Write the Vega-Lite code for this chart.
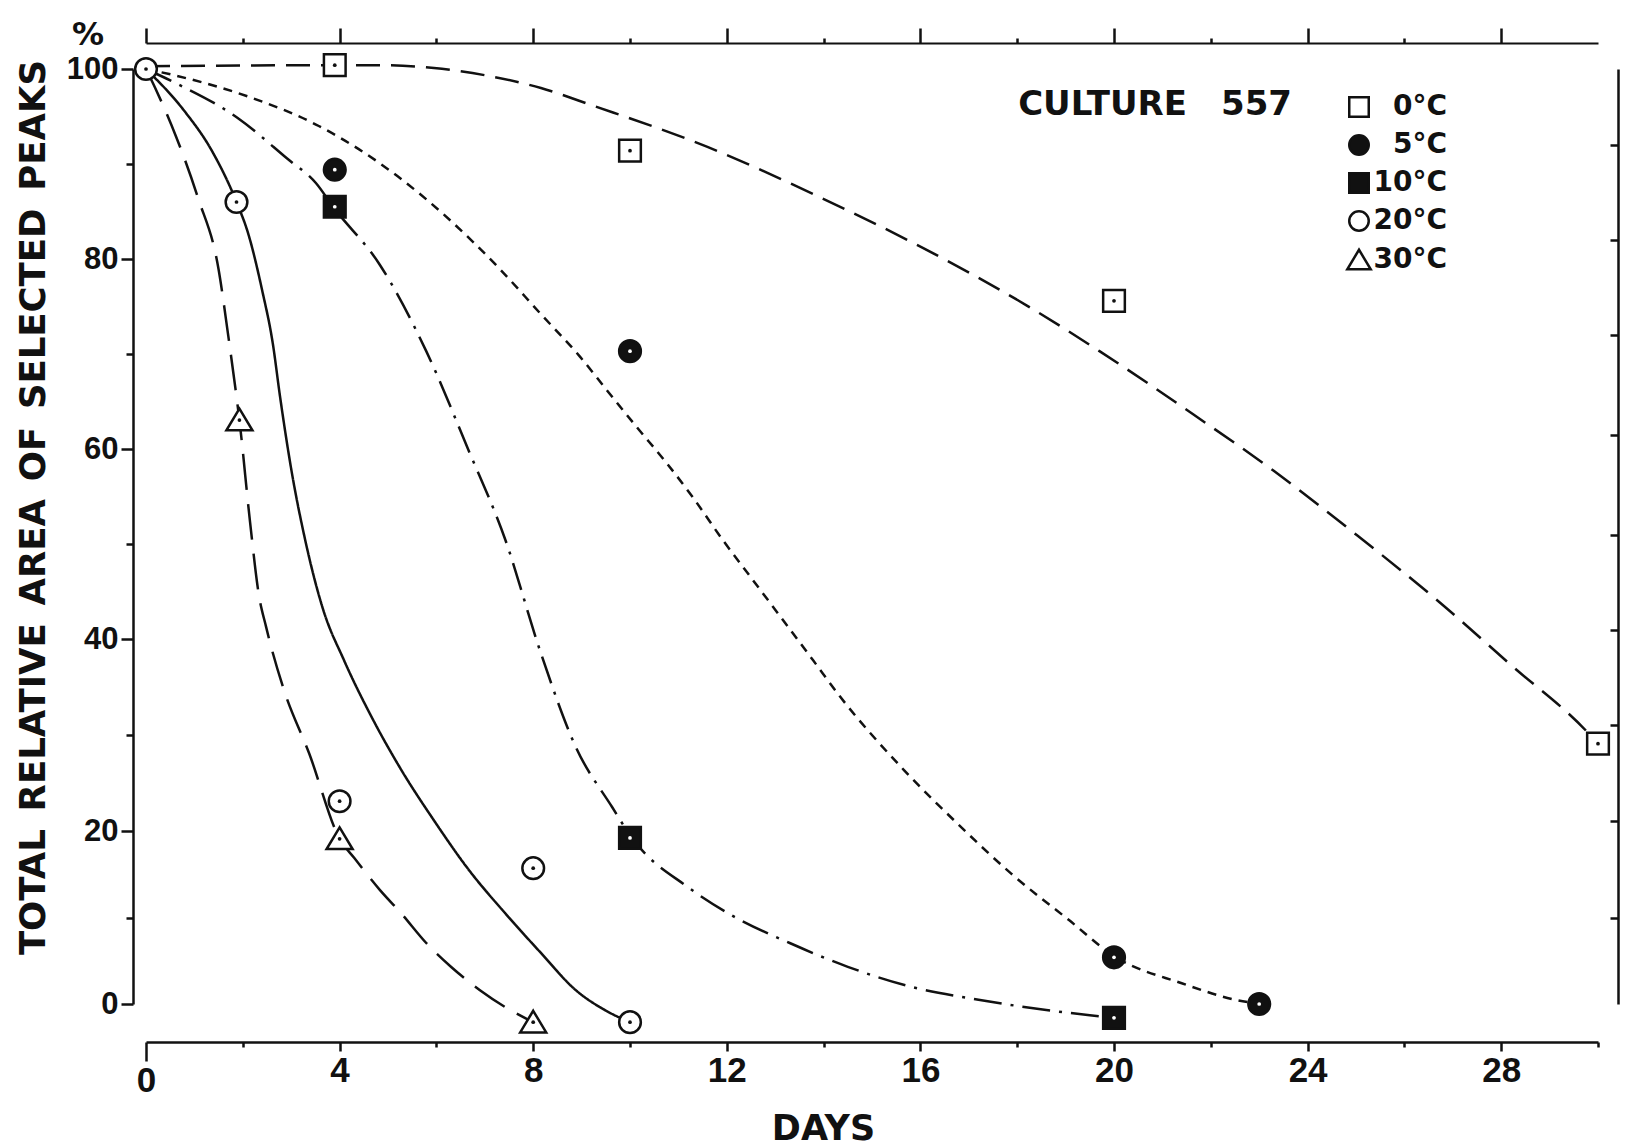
{
  "$schema": "https://vega.github.io/schema/vega-lite/v6.json",
  "width": 1452,
  "height": 935,
  "autosize": {"type": "none"},
  "padding": {"left": 146, "top": 69, "right": 28, "bottom": 144},
  "background": "white",
  "config": {
    "view": {"stroke": null},
    "font": "Liberation Sans",
    "axis": {
      "domainColor": "#111", "domainWidth": 2.5, "tickColor": "#111", "tickWidth": 2.5,
      "labelColor": "#111", "titleColor": "#111", "grid": false,
      "labelFont": "Liberation Sans", "titleFont": "DejaVu Sans",
      "labelFontWeight": "bold", "titleFontWeight": "bold"
    },
    "legend": {
      "orient": "none", "legendX": 1199, "legendY": 24, "title": null, "padding": 0,
      "symbolSize": 380, "symbolStrokeColor": "#111", "symbolStrokeWidth": 2.5, "symbolOpacity": 1,
      "labelFont": "DejaVu Sans", "labelFontSize": 28, "labelFontWeight": "bold", "labelColor": "#111",
      "labelAlign": "right", "labelOffset": 74, "rowPadding": 8
    }
  },
  "datasets": {
    "curves": [
      {"temp": "0°C", "day": 0, "v": 100.3}, {"temp": "0°C", "day": 3.9, "v": 100.4}, {"temp": "0°C", "day": 4.83, "v": 100.4},
      {"temp": "0°C", "day": 5.95, "v": 100.1}, {"temp": "0°C", "day": 7.05, "v": 99.3}, {"temp": "0°C", "day": 8.16, "v": 98.0},
      {"temp": "0°C", "day": 9.26, "v": 96.1}, {"temp": "0°C", "day": 11.6, "v": 91.8}, {"temp": "0°C", "day": 13.8, "v": 86.8},
      {"temp": "0°C", "day": 16.0, "v": 81.3}, {"temp": "0°C", "day": 18.2, "v": 75.1}, {"temp": "0°C", "day": 19.7, "v": 70.3},
      {"temp": "0°C", "day": 21.65, "v": 63.6}, {"temp": "0°C", "day": 23.3, "v": 57.7}, {"temp": "0°C", "day": 25.0, "v": 51.0},
      {"temp": "0°C", "day": 26.65, "v": 44.2}, {"temp": "0°C", "day": 28.2, "v": 37.3}, {"temp": "0°C", "day": 29.8, "v": 30.2},
      {"temp": "0°C", "day": 30.0, "v": 29.1},
      {"temp": "5°C", "day": 0, "v": 100}, {"temp": "5°C", "day": 0.62, "v": 99.3}, {"temp": "5°C", "day": 2.11, "v": 97.1},
      {"temp": "5°C", "day": 3.57, "v": 94.0}, {"temp": "5°C", "day": 5.2, "v": 88.7}, {"temp": "5°C", "day": 6.3, "v": 84.0},
      {"temp": "5°C", "day": 7.3, "v": 79.0}, {"temp": "5°C", "day": 8.14, "v": 74.3}, {"temp": "5°C", "day": 8.97, "v": 69.7},
      {"temp": "5°C", "day": 9.52, "v": 66.2}, {"temp": "5°C", "day": 10.14, "v": 62.3}, {"temp": "5°C", "day": 10.76, "v": 58.5},
      {"temp": "5°C", "day": 11.3, "v": 54.9}, {"temp": "5°C", "day": 11.92, "v": 50.4}, {"temp": "5°C", "day": 12.54, "v": 46.2},
      {"temp": "5°C", "day": 13.16, "v": 42.0}, {"temp": "5°C", "day": 13.78, "v": 37.8}, {"temp": "5°C", "day": 14.34, "v": 34.0},
      {"temp": "5°C", "day": 15.66, "v": 26.35}, {"temp": "5°C", "day": 16.76, "v": 20.8}, {"temp": "5°C", "day": 17.87, "v": 15.1},
      {"temp": "5°C", "day": 19.07, "v": 9.7}, {"temp": "5°C", "day": 20.04, "v": 5.4}, {"temp": "5°C", "day": 21.4, "v": 2.4},
      {"temp": "5°C", "day": 22.5, "v": 0.5}, {"temp": "5°C", "day": 23.0, "v": 0},
      {"temp": "10°C", "day": 0, "v": 100}, {"temp": "10°C", "day": 0.62, "v": 98.5}, {"temp": "10°C", "day": 1.88, "v": 94.9},
      {"temp": "10°C", "day": 2.91, "v": 90.6}, {"temp": "10°C", "day": 3.51, "v": 88.0}, {"temp": "10°C", "day": 3.88, "v": 85.4},
      {"temp": "10°C", "day": 4.83, "v": 79.4}, {"temp": "10°C", "day": 5.79, "v": 70.3}, {"temp": "10°C", "day": 6.67, "v": 59.8},
      {"temp": "10°C", "day": 7.42, "v": 50.5}, {"temp": "10°C", "day": 8.16, "v": 38.5}, {"temp": "10°C", "day": 8.88, "v": 28.75},
      {"temp": "10°C", "day": 9.63, "v": 22.5}, {"temp": "10°C", "day": 10.04, "v": 19.2}, {"temp": "10°C", "day": 11.2, "v": 13.5},
      {"temp": "10°C", "day": 12.15, "v": 10.1}, {"temp": "10°C", "day": 13.3, "v": 7.05}, {"temp": "10°C", "day": 14.5, "v": 4.3},
      {"temp": "10°C", "day": 15.8, "v": 2.0}, {"temp": "10°C", "day": 17.2, "v": 0.5}, {"temp": "10°C", "day": 18.6, "v": -0.7},
      {"temp": "10°C", "day": 19.5, "v": -1.3}, {"temp": "10°C", "day": 20.0, "v": -1.6},
      {"temp": "20°C", "day": 0, "v": 100}, {"temp": "20°C", "day": 0.79, "v": 95.6}, {"temp": "20°C", "day": 1.36, "v": 91.4},
      {"temp": "20°C", "day": 1.87, "v": 86.0}, {"temp": "20°C", "day": 2.11, "v": 82.7}, {"temp": "20°C", "day": 2.4, "v": 76.7},
      {"temp": "20°C", "day": 2.62, "v": 71.1}, {"temp": "20°C", "day": 2.77, "v": 65.5}, {"temp": "20°C", "day": 3.0, "v": 57.9},
      {"temp": "20°C", "day": 3.29, "v": 50.4}, {"temp": "20°C", "day": 3.66, "v": 43.1}, {"temp": "20°C", "day": 4.09, "v": 37.8},
      {"temp": "20°C", "day": 4.69, "v": 31.6}, {"temp": "20°C", "day": 5.27, "v": 26.4}, {"temp": "20°C", "day": 5.95, "v": 21.1},
      {"temp": "20°C", "day": 6.67, "v": 15.5}, {"temp": "20°C", "day": 7.42, "v": 10.5}, {"temp": "20°C", "day": 8.16, "v": 5.9},
      {"temp": "20°C", "day": 8.88, "v": 1.6}, {"temp": "20°C", "day": 9.48, "v": -0.7}, {"temp": "20°C", "day": 10.0, "v": -2.1},
      {"temp": "30°C", "day": 0, "v": 100}, {"temp": "30°C", "day": 0.19, "v": 98.0}, {"temp": "30°C", "day": 0.62, "v": 92.9},
      {"temp": "30°C", "day": 1.07, "v": 86.5}, {"temp": "30°C", "day": 1.5, "v": 78.9}, {"temp": "30°C", "day": 1.7, "v": 71.9},
      {"temp": "30°C", "day": 1.88, "v": 65.1}, {"temp": "30°C", "day": 1.93, "v": 63.05}, {"temp": "30°C", "day": 2.15, "v": 52.3},
      {"temp": "30°C", "day": 2.33, "v": 44.7}, {"temp": "30°C", "day": 2.48, "v": 41.3}, {"temp": "30°C", "day": 2.85, "v": 34.7},
      {"temp": "30°C", "day": 3.37, "v": 28.1}, {"temp": "30°C", "day": 4.0, "v": 19.1}, {"temp": "30°C", "day": 4.3, "v": 16.9},
      {"temp": "30°C", "day": 4.83, "v": 13.2}, {"temp": "30°C", "day": 5.27, "v": 10.5}, {"temp": "30°C", "day": 5.79, "v": 7.05},
      {"temp": "30°C", "day": 6.3, "v": 4.3}, {"temp": "30°C", "day": 6.9, "v": 1.6}, {"temp": "30°C", "day": 7.42, "v": -0.35},
      {"temp": "30°C", "day": 8.0, "v": -2.1}
    ],
    "obs": [
      {"temp": "0°C", "day": 3.9, "v": 100.4}, {"temp": "0°C", "day": 10, "v": 91.4}, {"temp": "0°C", "day": 20, "v": 75.6}, {"temp": "0°C", "day": 30, "v": 29.1},
      {"temp": "5°C", "day": 3.9, "v": 89.4}, {"temp": "5°C", "day": 10, "v": 70.3}, {"temp": "5°C", "day": 20, "v": 5.4}, {"temp": "5°C", "day": 23, "v": 0},
      {"temp": "10°C", "day": 3.9, "v": 85.5}, {"temp": "10°C", "day": 10, "v": 19.2}, {"temp": "10°C", "day": 20, "v": -1.6},
      {"temp": "20°C", "day": 0, "v": 100}, {"temp": "20°C", "day": 1.87, "v": 86.0}, {"temp": "20°C", "day": 4, "v": 23.1}, {"temp": "20°C", "day": 8, "v": 15.7}, {"temp": "20°C", "day": 10, "v": -2.1},
      {"temp": "30°C", "day": 1.93, "v": 63.05}, {"temp": "30°C", "day": 4, "v": 19.1}, {"temp": "30°C", "day": 8, "v": -2.1}
    ]
  },
  "layer": [
    {
      "data": {"name": "curves"},
      "mark": {"type": "line", "interpolate": "monotone", "strokeWidth": 2.5, "color": "#111"},
      "encoding": {
        "x": {
          "field": "day", "type": "quantitative",
          "scale": {"domain": [0, 30], "nice": false, "zero": false},
          "axis": {
            "orient": "bottom", "offset": 38,
            "values": [0, 2, 4, 6, 8, 10, 12, 14, 16, 18, 20, 22, 24, 26, 28, 30],
            "labelExpr": "datum.value % 4 === 0 && datum.value < 30 ? datum.label : ''",
            "tickSize": {"condition": [{"test": "datum.value === 0", "value": 19}, {"test": "datum.value % 4 !== 0", "value": 5}], "value": 9},
            "labelFont": "Liberation Sans Narrow, Liberation Sans", "labelFontSize": 35, "labelPadding": 2, "labelFlush": false, "labelOverlap": false,
            "title": "DAYS", "titleFontSize": 35, "titleX": 677, "titleY": 97,
            "titleBaseline": "alphabetic", "titleAlign": "center"
          }
        },
        "y": {
          "field": "v", "type": "quantitative",
          "scale": {"domain": [0, 20, 40, 60, 80, 100], "range": [935, 762, 570, 380, 190, 0], "nice": false, "zero": false},
          "axis": {
            "orient": "left", "offset": 13,
            "values": [0, 10, 20, 30, 40, 50, 60, 70, 80, 90, 100],
            "labelExpr": "datum.value % 20 === 0 ? datum.label : ''",
            "tickSize": {"condition": {"test": "datum.value % 20 !== 0", "value": 7}, "value": 12},
            "labelFontSize": 31, "labelPadding": 3, "labelFlush": false, "labelOverlap": false,
            "title": "TOTAL\u2002RELATIVE\u2002AREA\u2002OF\u2002SELECTED\u2002PEAKS",
            "titleFontSize": 35.5, "titleX": -89, "titleY": 438,
            "titleBaseline": "alphabetic", "titleAlign": "center", "titleAngle": -90
          }
        },
        "strokeDash": {
          "field": "temp", "type": "nominal",
          "scale": {"domain": ["30°C", "20°C", "10°C", "5°C", "0°C"], "range": [[36, 14], [1, 0], [28, 9, 3, 9], [9, 7], [24, 11]]},
          "legend": null
        }
      }
    },
    {
      "data": {"name": "obs"},
      "mark": {"type": "point", "filled": false, "strokeWidth": 2.5, "size": 470, "opacity": 1},
      "encoding": {
        "x": {
          "field": "day", "type": "quantitative",
          "axis": {
            "orient": "top", "offset": 26, "labels": false, "title": null, "domainWidth": 2,
            "values": [0, 2, 4, 6, 8, 10, 12, 14, 16, 18, 20, 22, 24, 26, 28],
            "tickSize": {"condition": {"test": "datum.value % 4 !== 0", "value": 5}, "value": 15}
          }
        },
        "y": {
          "field": "v", "type": "quantitative",
          "axis": {
            "orient": "right", "offset": 20, "labels": false, "title": null, "domainWidth": 2.5,
            "values": [10, 21, 31, 41, 51, 61.5, 72, 82, 92], "tickSize": -8
          }
        },
        "shape": {
          "field": "temp", "type": "nominal",
          "scale": {"domain": ["0°C", "5°C", "10°C", "20°C", "30°C"], "range": ["square", "circle", "square", "circle", "M0,-1.05L1.2,0.95L-1.2,0.95Z"]}
        },
        "fill": {
          "field": "temp", "type": "nominal",
          "scale": {"domain": ["0°C", "5°C", "10°C", "20°C", "30°C"], "range": ["white", "#111", "#111", "white", "white"]}
        },
        "stroke": {
          "field": "temp", "type": "nominal",
          "scale": {"domain": ["0°C", "5°C", "10°C", "20°C", "30°C"], "range": ["#111", "#111", "#111", "#111", "#111"]}
        }
      }
    },
    {
      "data": {"name": "obs"},
      "mark": {"type": "point", "filled": true, "shape": "circle", "size": 14, "strokeWidth": 0, "opacity": 1},
      "encoding": {
        "x": {"field": "day", "type": "quantitative", "axis": null},
        "y": {"field": "v", "type": "quantitative", "axis": null},
        "fill": {"condition": {"test": "datum.temp === '5°C' || datum.temp === '10°C'", "value": "white"}, "value": "#111"}
      }
    },
    {
      "data": {"values": [{}]},
      "mark": {"type": "text", "font": "DejaVu Sans", "fontSize": 32, "fontWeight": "bold", "align": "center", "baseline": "middle", "color": "#111"},
      "encoding": {
        "x": {"datum": -1.2, "type": "quantitative", "axis": null},
        "y": {"datum": 103.6, "type": "quantitative", "axis": null},
        "text": {"value": "%"}
      }
    },
    {
      "data": {"values": [{}]},
      "mark": {"type": "text", "font": "DejaVu Sans", "fontSize": 34, "fontWeight": "bold", "align": "left", "baseline": "middle", "color": "#111"},
      "encoding": {
        "x": {"datum": 18.02, "type": "quantitative", "axis": null},
        "y": {"datum": 96.2, "type": "quantitative", "axis": null},
        "text": {"value": "CULTURE\u2003557"}
      }
    }
  ],
  "resolve": {"axis": {"x": "independent", "y": "independent"}}
}
